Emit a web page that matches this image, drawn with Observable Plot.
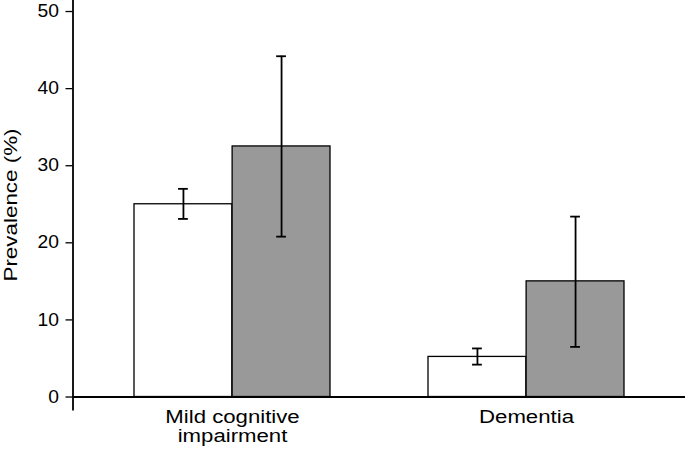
<!DOCTYPE html>
<html><head><meta charset="utf-8">
<script src="https://cdn.jsdelivr.net/npm/d3@7"></script>
<script src="https://cdn.jsdelivr.net/npm/@observablehq/plot@0.6"></script>
<style>
html,body{margin:0;padding:0;background:#fff;}
#chart svg{display:block;}
</style></head><body><div id="chart"></div>
<script>
// ---- data ----
const categories = ["Mild cognitive\nimpairment", "Dementia"];
const series1Values = [25.0, 5.2];
const series1Low = [23.1, 4.2];
const series1High = [27.0, 6.3];
const series2Values = [32.5, 15.0];
const series2Low = [20.8, 6.5];
const series2High = [44.2, 23.4];
const yTicks = [0, 10, 20, 30, 40, 50];

// ---- layout ----
const W = 685, H = 456, mL = 72.5, mR = 0, mT = 0, mB = 47;
const padInner = 0.333, padOuter = 0.2075;
const bw = d3.scaleBand().domain(categories).range([mL, W - mR])
  .paddingInner(padInner).paddingOuter(padOuter).bandwidth();
const half = bw / 2, quarter = bw / 4, cap = 5;

const rows1 = categories.map((c, i) => ({category: c, value: series1Values[i], low: series1Low[i], high: series1High[i]}));
const rows2 = categories.map((c, i) => ({category: c, value: series2Values[i], low: series2Low[i], high: series2High[i]}));

const ink = "#000";
const chart = Plot.plot({
  width: W, height: H, marginLeft: mL, marginRight: mR, marginTop: mT, marginBottom: mB,
  style: {fontFamily: "'Liberation Sans', Arial, Helvetica, sans-serif", fontSize: "17.5px", color: ink, background: "#fff"},
  x: {type: "band", domain: categories, paddingInner: padInner, paddingOuter: padOuter},
  y: {domain: [-1.62, 51.43]},
  marks: [
    Plot.axisX({tickSize: 0, tickPadding: 0, label: null, lineHeight: 1.02, fontSize: 18.5}),
    Plot.axisY({ticks: yTicks, tickSize: 7, tickPadding: 7, strokeWidth: 1.3, fontSize: 17.5,
                label: "Prevalence (%)", labelAnchor: "center", labelArrow: "none", labelOffset: 70}),
    Plot.frame({anchor: "left", stroke: ink, strokeWidth: 1.8}),
    Plot.barY(rows1, {x: "category", y: "value", insetRight: half, fill: "white", stroke: ink, strokeWidth: 1.3}),
    Plot.barY(rows2, {x: "category", y: "value", insetLeft: half, fill: "#999999", stroke: ink, strokeWidth: 1.3}),
    Plot.ruleY([0], {stroke: ink, strokeWidth: 1.8}),
    Plot.ruleX(rows1, {x: "category", y1: "low", y2: "high", dx: -quarter, stroke: ink, strokeWidth: 1.8}),
    Plot.tickY(rows1, {x: "category", y: "low", insetLeft: quarter - cap, insetRight: 3 * quarter - cap, stroke: ink, strokeWidth: 1.8}),
    Plot.tickY(rows1, {x: "category", y: "high", insetLeft: quarter - cap, insetRight: 3 * quarter - cap, stroke: ink, strokeWidth: 1.8}),
    Plot.ruleX(rows2, {x: "category", y1: "low", y2: "high", dx: quarter, stroke: ink, strokeWidth: 1.8}),
    Plot.tickY(rows2, {x: "category", y: "low", insetLeft: 3 * quarter - cap, insetRight: quarter - cap, stroke: ink, strokeWidth: 1.8}),
    Plot.tickY(rows2, {x: "category", y: "high", insetLeft: 3 * quarter - cap, insetRight: quarter - cap, stroke: ink, strokeWidth: 1.8})
  ]
});
document.getElementById("chart").appendChild(chart);

// widen glyphs slightly to match the reference typeface
function stretch(selector, s, size) {
  chart.querySelectorAll(selector).forEach(t => {
    if (size) t.style.fontSize = size;
    const tr = t.getAttribute("transform");
    if (tr) {
      t.setAttribute("transform", tr + ` scale(${s},1)`);
    } else {
      const x = +(t.getAttribute("x") || 0), y = +(t.getAttribute("y") || 0);
      t.removeAttribute("x"); t.removeAttribute("y");
      t.setAttribute("transform", `translate(${x},${y}) scale(${s},1)`);
    }
  });
}
stretch('[aria-label="y-axis tick label"] text', 1.1);
stretch('[aria-label="x-axis tick label"] text', 1.2);
stretch('[aria-label="y-axis label"] text', 1.18, "19px");
</script>
</body></html>
